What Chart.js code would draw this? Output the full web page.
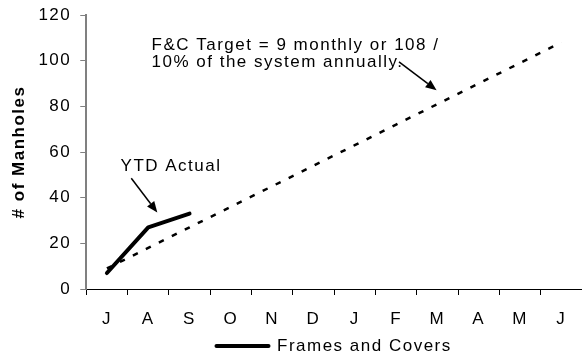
<!DOCTYPE html>
<html>
<head>
<meta charset="utf-8">
<script src="https://cdn.jsdelivr.net/npm/chart.js@4.4.1/dist/chart.umd.min.js"></script>
<style>
  html, body { margin: 0; padding: 0; background: #fff; }
  #wrap { width: 582px; height: 360px; }
</style>
</head>
<body>
<div id="wrap"><canvas id="c" width="582" height="360"></canvas></div>
<script>
// Fiscal-year months, July through June
const months = ['J', 'A', 'S', 'O', 'N', 'D', 'J', 'F', 'M', 'A', 'M', 'J'];
// Cumulative target: 9 manholes per month, 108 for the year
const targetCumulative = [9, 18, 27, 36, 45, 54, 63, 72, 81, 90, 99, 108];
// Year-to-date frames and covers completed
const ytdActual = [7, 27, 33, null, null, null, null, null, null, null, null, null];
const yTicks = [0, 20, 40, 60, 80, 100, 120];

const FONT = 'Liberation Sans, Arial, sans-serif';
const FONT_SIZE = 17;
const TRACKING = '1.5px';

// Wide-set lettering for every text drawn on the canvas
const tracking = {
  id: 'tracking',
  beforeUpdate(chart) { chart.ctx.letterSpacing = TRACKING; },
  beforeDraw(chart) { chart.ctx.letterSpacing = TRACKING; }
};

// Callout texts and arrows, placed in data space (category index, value)
const callouts = {
  id: 'callouts',
  afterDraw(chart) {
    const ctx = chart.ctx;
    const xs = chart.scales.x, ys = chart.scales.y;
    const px = (i) => xs.getPixelForValue(i);
    const py = (v) => ys.getPixelForValue(v);

    ctx.save();
    ctx.letterSpacing = TRACKING;
    ctx.fillStyle = '#000';
    ctx.font = FONT_SIZE + 'px ' + FONT;
    ctx.textAlign = 'left';
    ctx.textBaseline = 'alphabetic';
    ctx.fillText('F&C Target = 9 monthly or 108 /', px(1.08), py(104.8));
    ctx.fillText('10% of the system annually.', px(1.08), py(97.4));
    ctx.fillText('YTD Actual', px(0.33), py(51.5));

    const arrow = (x1, y1, x2, y2) => {
      const ang = Math.atan2(y2 - y1, x2 - x1);
      const head = 11, half = 4.5;
      const bx = x2 - head * Math.cos(ang), by = y2 - head * Math.sin(ang);
      ctx.strokeStyle = '#000';
      ctx.lineWidth = 1.5;
      ctx.beginPath();
      ctx.moveTo(x1, y1);
      ctx.lineTo(bx, by);
      ctx.stroke();
      ctx.beginPath();
      ctx.moveTo(x2, y2);
      ctx.lineTo(bx + half * Math.sin(ang), by - half * Math.cos(ang));
      ctx.lineTo(bx - half * Math.sin(ang), by + half * Math.cos(ang));
      ctx.closePath();
      ctx.fill();
    };
    arrow(px(7.07), py(99.5), px(7.98), py(87));
    arrow(px(0.59), py(48.5), px(1.22), py(33.5));
    ctx.restore();
  }
};

new Chart(document.getElementById('c'), {
  type: 'line',
  data: {
    labels: months,
    datasets: [
      {
        label: 'F&C Target',
        data: targetCumulative,
        borderColor: '#000',
        borderWidth: 2.5,
        borderDash: [5.5, 9],
        pointRadius: 0,
        fill: false,
        tension: 0
      },
      {
        label: 'Frames and Covers',
        data: ytdActual,
        borderColor: '#000',
        borderWidth: 4,
        borderCapStyle: 'round',
        borderJoinStyle: 'round',
        pointRadius: 0,
        fill: false,
        tension: 0,
        spanGaps: false
      }
    ]
  },
  options: {
    responsive: false,
    animation: false,
    devicePixelRatio: 1,
    layout: { padding: { top: 0, right: 0, left: 9, bottom: -4.5 } },
    plugins: {
      tooltip: { enabled: false },
      legend: {
        display: true,
        position: 'bottom',
        fullSize: false,
        labels: {
          font: { family: FONT, size: FONT_SIZE },
          color: '#000',
          usePointStyle: true,
          pointStyleWidth: 52,
          padding: 0,
          generateLabels(chart) {
            const ds = chart.data.datasets[1];
            return [{
              text: ds.label,
              strokeStyle: '#000',
              fillStyle: '#000',
              lineWidth: 4,
              lineCap: 'round',
              pointStyle: 'line',
              datasetIndex: 1,
              hidden: false
            }];
          }
        }
      }
    },
    scales: {
      x: {
        type: 'category',
        offset: true,
        border: { color: '#000', width: 1 },
        grid: { drawOnChartArea: false, offset: true, tickLength: 6, color: '#000' },
        ticks: { font: { family: FONT, size: FONT_SIZE }, color: '#000', padding: 14, maxRotation: 0, autoSkip: false },
        afterFit(scale) { scale.height = 48.5; }
      },
      y: {
        min: 0,
        max: 120,
        afterBuildTicks(scale) { scale.ticks = yTicks.map(v => ({ value: v })); },
        afterFit(scale) { scale.paddingTop = 15; },
        border: { color: '#808080', width: 2 },
        grid: { drawOnChartArea: false, tickLength: 6, color: '#808080' },
        ticks: { font: { family: FONT, size: FONT_SIZE }, color: '#000', padding: 9 },
        title: {
          display: true,
          text: '# of Manholes',
          font: { family: FONT, size: FONT_SIZE, weight: 'bold' },
          color: '#000',
          padding: { top: 0, bottom: 0 }
        }
      }
    }
  },
  plugins: [tracking, callouts]
});
</script>
</body>
</html>
